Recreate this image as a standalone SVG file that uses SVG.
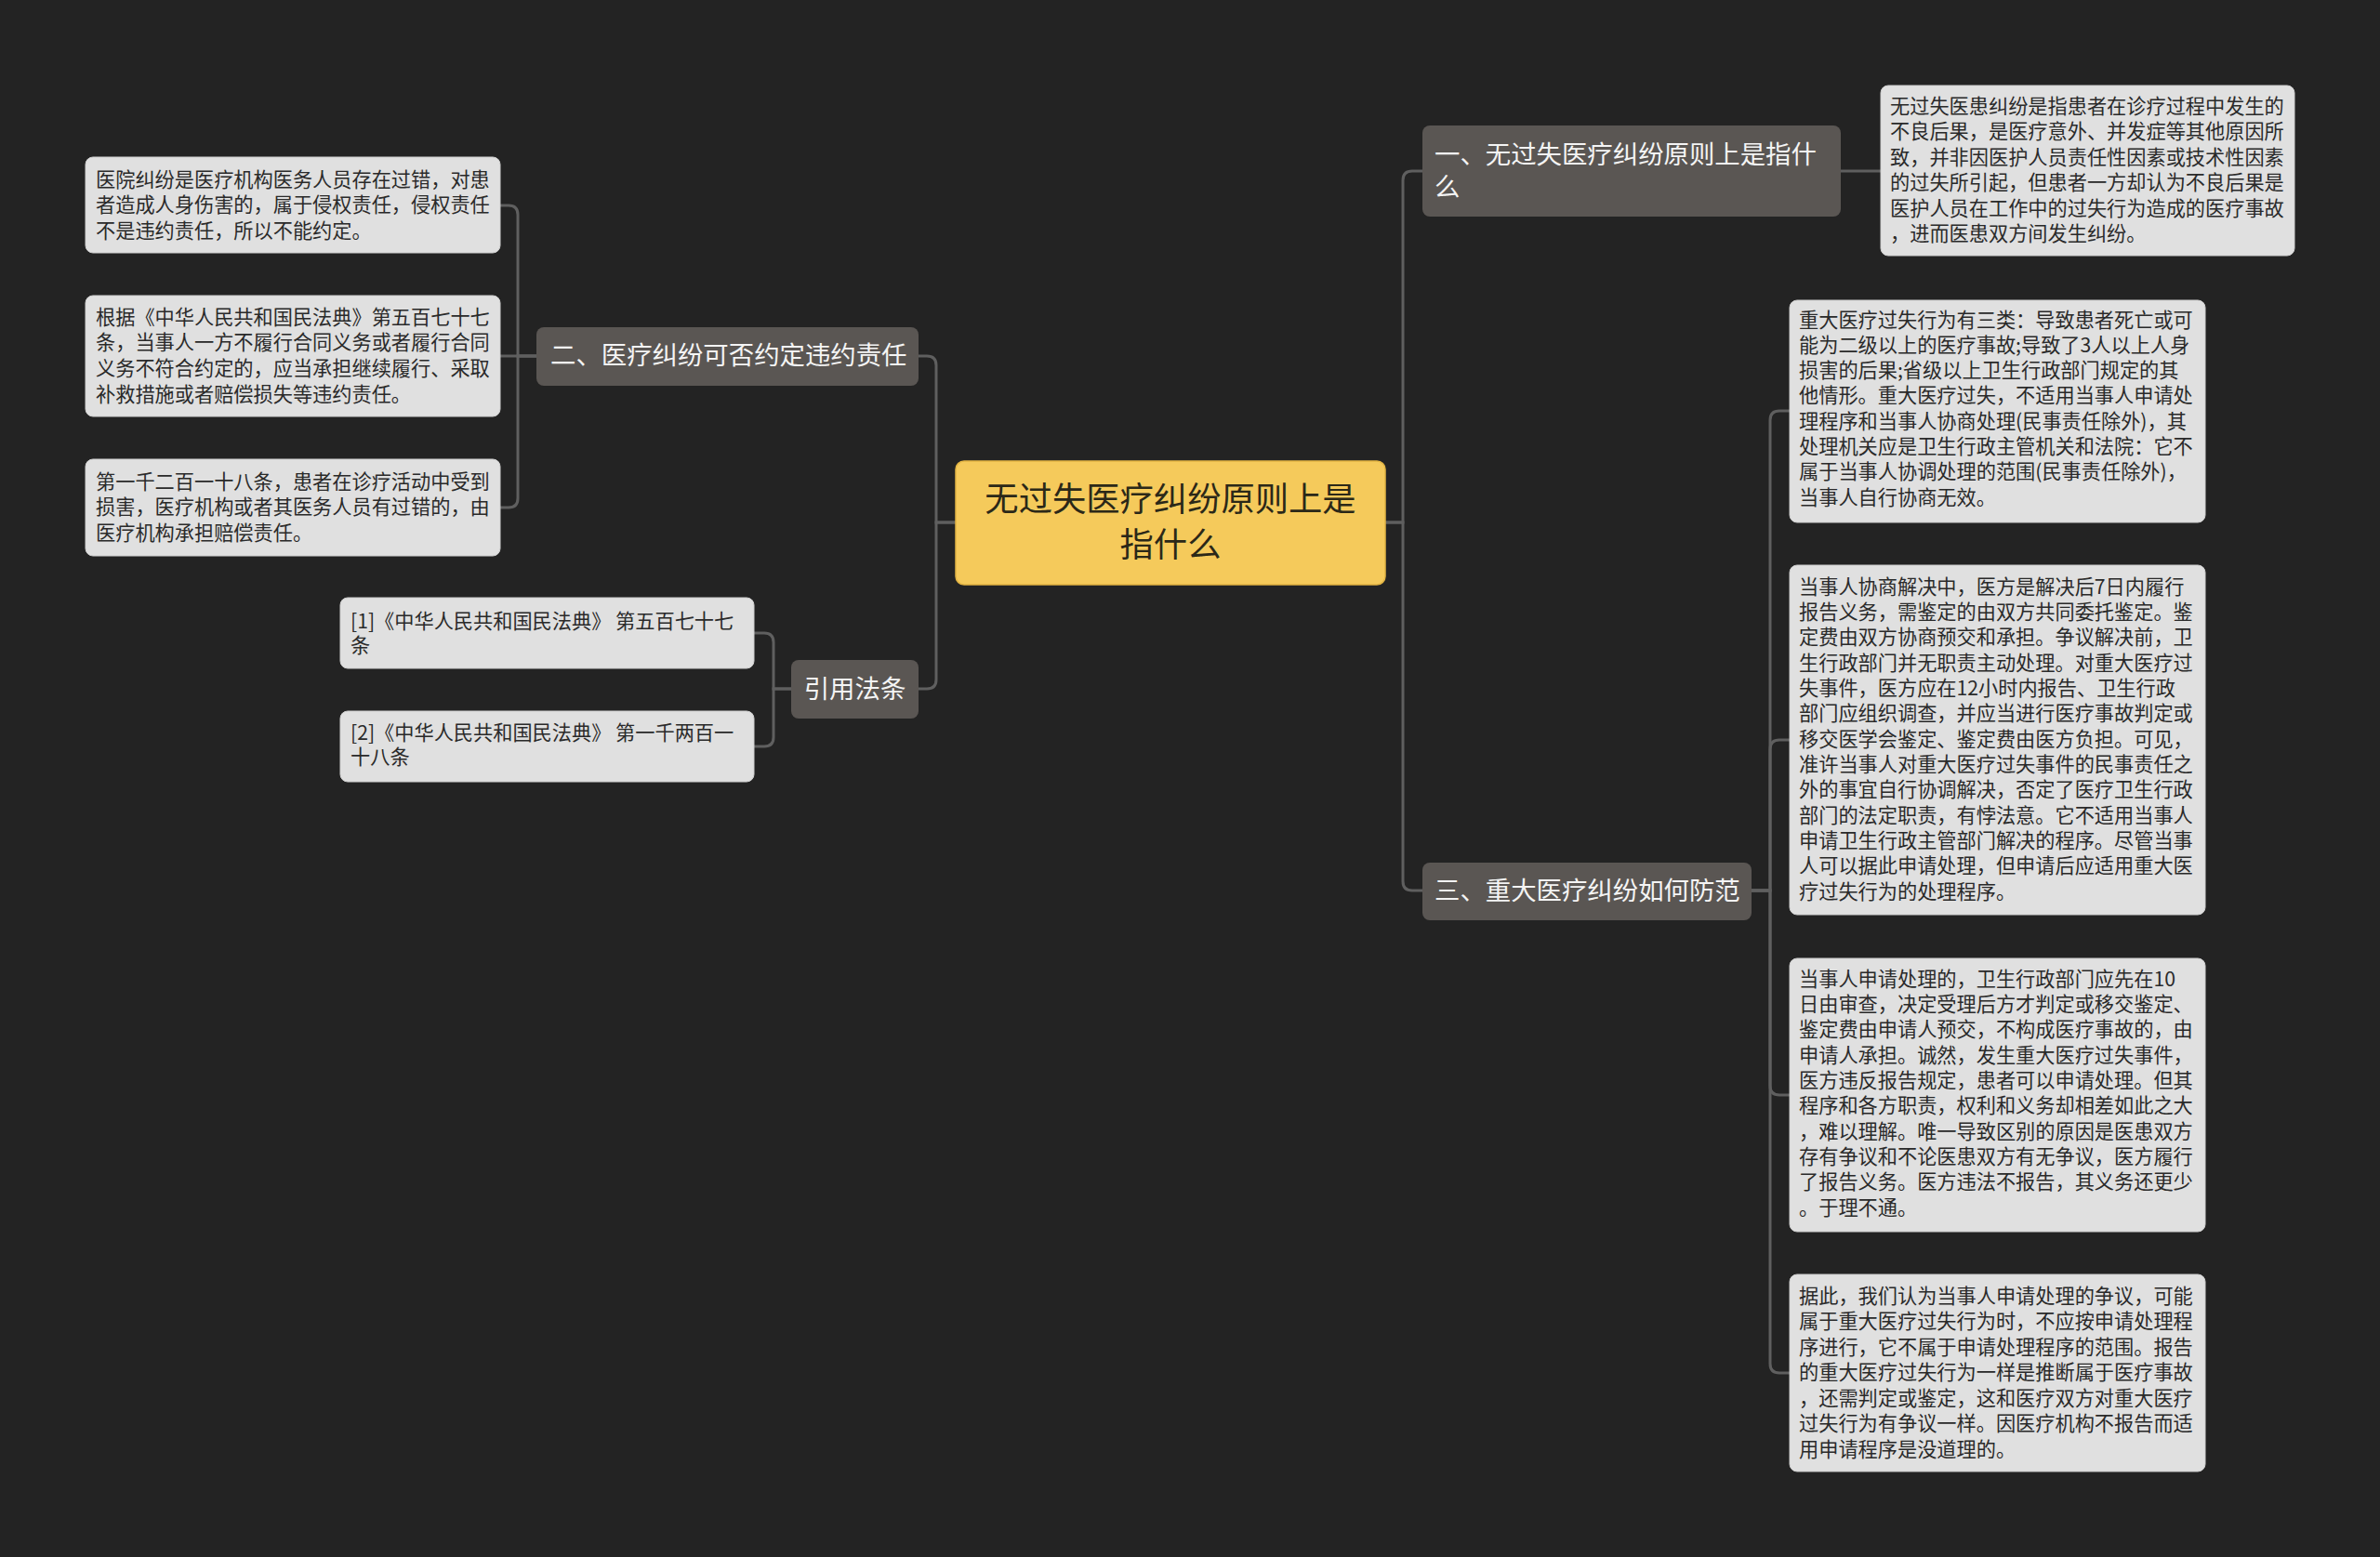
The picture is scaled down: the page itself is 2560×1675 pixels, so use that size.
<svg xmlns="http://www.w3.org/2000/svg" width="2560" height="1675" viewBox="0 0 2560 1675">
<style>
text{font-family:"Noto Sans CJK SC","Noto Sans",sans-serif;}
.root{fill:#f5ca5b;stroke:#e2b443;stroke-width:1.5;}
.rt{font-size:36.3px;fill:#2b2818;text-anchor:middle;}
.l1{fill:#5a5653;}
.t1{font-size:27.4px;fill:#f4f4f4;}
.leaf{fill:#e0e0e0;stroke:#cfcfcf;stroke-width:1;}
.t2{font-size:21.2px;fill:#2a2a2a;}
.c{fill:none;stroke:#5f5f5f;stroke-width:3;}
</style>
<rect x="0" y="0" width="2560" height="1675" fill="#232323"/>

<g id="connectors">
  <path class="c" d="M1028,562 H1007 V393 Q1007,383 997,383 H988"/>
  <path class="c" d="M1028,562 H1007 V731 Q1007,741 997,741 H988"/>
  <path class="c" d="M577,383 H557 V231 Q557,221 547,221 H538"/>
  <path class="c" d="M577,383 H538"/>
  <path class="c" d="M577,383 H557 V536 Q557,546 547,546 H538"/>
  <path class="c" d="M851,741 H832 V691 Q832,681 822,681 H811"/>
  <path class="c" d="M851,741 H832 V793 Q832,803 822,803 H811"/>
  <path class="c" d="M1490,562 H1509 V194 Q1509,184 1519,184 H1530"/>
  <path class="c" d="M1490,562 H1509 V948 Q1509,958 1519,958 H1530"/>
  <path class="c" d="M1980,184 H2023"/>
  <path class="c" d="M1884,958 H1904 V452 Q1904,442 1914,442 H1925"/>
  <path class="c" d="M1884,958 H1904 V806 Q1904,796 1914,796 H1925"/>
  <path class="c" d="M1884,958 H1904 V1168 Q1904,1178 1914,1178 H1925"/>
  <path class="c" d="M1884,958 H1904 V1467 Q1904,1477 1914,1477 H1925"/>
</g>

<g id="root">
  <rect class="root" x="1028" y="496" width="462" height="133" rx="9"/>
  <text class="rt" x="1259" y="550">无过失医疗纠纷原则上是</text>
  <text class="rt" x="1259" y="599">指什么</text>
</g>

<g id="node-2">
  <rect class="l1" x="577" y="352" width="411" height="63" rx="8"/>
  <text class="t1" x="592" y="392">二、医疗纠纷可否约定违约责任</text>
</g>

<g id="leaf-2a">
  <rect class="leaf" x="92" y="169" width="446" height="103" rx="8"/>
  <text class="t2" x="103" y="200.5">医院纠纷是医疗机构医务人员存在过错，对患</text>
  <text class="t2" x="103" y="228">者造成人身伤害的，属于侵权责任，侵权责任</text>
  <text class="t2" x="103" y="255.5">不是违约责任，所以不能约定。</text>
</g>

<g id="leaf-2b">
  <rect class="leaf" x="92" y="318" width="446" height="130" rx="8"/>
  <text class="t2" x="103" y="348.5">根据《中华人民共和国民法典》第五百七十七</text>
  <text class="t2" x="103" y="376.3">条，当事人一方不履行合同义务或者履行合同</text>
  <text class="t2" x="103" y="404.1">义务不符合约定的，应当承担继续履行、采取</text>
  <text class="t2" x="103" y="431.9">补救措施或者赔偿损失等违约责任。</text>
</g>

<g id="leaf-2c">
  <rect class="leaf" x="92" y="494" width="446" height="104" rx="8"/>
  <text class="t2" x="103" y="525.5">第一千二百一十八条，患者在诊疗活动中受到</text>
  <text class="t2" x="103" y="553">损害，医疗机构或者其医务人员有过错的，由</text>
  <text class="t2" x="103" y="580.5">医疗机构承担赔偿责任。</text>
</g>

<g id="node-ref">
  <rect class="l1" x="851" y="710" width="137" height="63" rx="8"/>
  <text class="t1" x="919.5" y="751" text-anchor="middle">引用法条</text>
</g>

<g id="ref-1">
  <rect class="leaf" x="366" y="643" width="445" height="76" rx="8"/>
  <text class="t2" x="377" y="675.5">[1]《中华人民共和国民法典》 第五百七十七</text>
  <text class="t2" x="377" y="702">条</text>
</g>

<g id="ref-2">
  <rect class="leaf" x="366" y="765" width="445" height="76" rx="8"/>
  <text class="t2" x="377" y="795.5">[2]《中华人民共和国民法典》 第一千两百一</text>
  <text class="t2" x="377" y="822">十八条</text>
</g>

<g id="node-1">
  <rect class="l1" x="1530" y="135" width="450" height="98" rx="8"/>
  <text class="t1" x="1543" y="176">一、无过失医疗纠纷原则上是指什</text>
  <text class="t1" x="1543" y="211">么</text>
</g>

<g id="leaf-1">
  <rect class="leaf" x="2023" y="92" width="445" height="183" rx="8"/>
  <text class="t2" x="2033" y="121.5">无过失医患纠纷是指患者在诊疗过程中发生的</text>
  <text class="t2" x="2033" y="149">不良后果，是医疗意外、并发症等其他原因所</text>
  <text class="t2" x="2033" y="176.5">致，并非因医护人员责任性因素或技术性因素</text>
  <text class="t2" x="2033" y="204">的过失所引起，但患者一方却认为不良后果是</text>
  <text class="t2" x="2033" y="231.5">医护人员在工作中的过失行为造成的医疗事故</text>
  <text class="t2" x="2033" y="259">，进而医患双方间发生纠纷。</text>
</g>

<g id="node-3">
  <rect class="l1" x="1530" y="928" width="354" height="62" rx="8"/>
  <text class="t1" x="1543" y="968">三、重大医疗纠纷如何防范</text>
</g>

<g id="leaf-3a">
  <rect class="leaf" x="1925" y="323" width="447" height="239" rx="8"/>
  <text class="t2" x="1935" y="351.5">重大医疗过失行为有三类：导致患者死亡或可</text>
  <text class="t2" x="1935" y="378.8">能为二级以上的医疗事故;导致了3人以上人身</text>
  <text class="t2" x="1935" y="406.1">损害的后果;省级以上卫生行政部门规定的其</text>
  <text class="t2" x="1935" y="433.4">他情形。重大医疗过失，不适用当事人申请处</text>
  <text class="t2" x="1935" y="460.7">理程序和当事人协商处理(民事责任除外)，其</text>
  <text class="t2" x="1935" y="488">处理机关应是卫生行政主管机关和法院：它不</text>
  <text class="t2" x="1935" y="515.3">属于当事人协调处理的范围(民事责任除外)，</text>
  <text class="t2" x="1935" y="542.6">当事人自行协商无效。</text>
</g>

<g id="leaf-3b">
  <rect class="leaf" x="1925" y="608" width="447" height="376" rx="8"/>
  <text class="t2" x="1935" y="638.5">当事人协商解决中，医方是解决后7日内履行</text>
  <text class="t2" x="1935" y="665.8">报告义务，需鉴定的由双方共同委托鉴定。鉴</text>
  <text class="t2" x="1935" y="693.2">定费由双方协商预交和承担。争议解决前，卫</text>
  <text class="t2" x="1935" y="720.5">生行政部门并无职责主动处理。对重大医疗过</text>
  <text class="t2" x="1935" y="747.8">失事件，医方应在12小时内报告、卫生行政</text>
  <text class="t2" x="1935" y="775.2">部门应组织调查，并应当进行医疗事故判定或</text>
  <text class="t2" x="1935" y="802.5">移交医学会鉴定、鉴定费由医方负担。可见，</text>
  <text class="t2" x="1935" y="829.8">准许当事人对重大医疗过失事件的民事责任之</text>
  <text class="t2" x="1935" y="857.2">外的事宜自行协调解决，否定了医疗卫生行政</text>
  <text class="t2" x="1935" y="884.5">部门的法定职责，有悖法意。它不适用当事人</text>
  <text class="t2" x="1935" y="911.8">申请卫生行政主管部门解决的程序。尽管当事</text>
  <text class="t2" x="1935" y="939.2">人可以据此申请处理，但申请后应适用重大医</text>
  <text class="t2" x="1935" y="966.5">疗过失行为的处理程序。</text>
</g>

<g id="leaf-3c">
  <rect class="leaf" x="1925" y="1031" width="447" height="294" rx="8"/>
  <text class="t2" x="1935" y="1060.5">当事人申请处理的，卫生行政部门应先在10</text>
  <text class="t2" x="1935" y="1087.8">日由审查，决定受理后方才判定或移交鉴定、</text>
  <text class="t2" x="1935" y="1115.2">鉴定费由申请人预交，不构成医疗事故的，由</text>
  <text class="t2" x="1935" y="1142.5">申请人承担。诚然，发生重大医疗过失事件，</text>
  <text class="t2" x="1935" y="1169.8">医方违反报告规定，患者可以申请处理。但其</text>
  <text class="t2" x="1935" y="1197.2">程序和各方职责，权利和义务却相差如此之大</text>
  <text class="t2" x="1935" y="1224.5">，难以理解。唯一导致区别的原因是医患双方</text>
  <text class="t2" x="1935" y="1251.8">存有争议和不论医患双方有无争议，医方履行</text>
  <text class="t2" x="1935" y="1279.2">了报告义务。医方违法不报告，其义务还更少</text>
  <text class="t2" x="1935" y="1306.5">。于理不通。</text>
</g>

<g id="leaf-3d">
  <rect class="leaf" x="1925" y="1371" width="447" height="212" rx="8"/>
  <text class="t2" x="1935" y="1401.5">据此，我们认为当事人申请处理的争议，可能</text>
  <text class="t2" x="1935" y="1429">属于重大医疗过失行为时，不应按申请处理程</text>
  <text class="t2" x="1935" y="1456.5">序进行，它不属于申请处理程序的范围。报告</text>
  <text class="t2" x="1935" y="1484">的重大医疗过失行为一样是推断属于医疗事故</text>
  <text class="t2" x="1935" y="1511.5">，还需判定或鉴定，这和医疗双方对重大医疗</text>
  <text class="t2" x="1935" y="1539">过失行为有争议一样。因医疗机构不报告而适</text>
  <text class="t2" x="1935" y="1566.5">用申请程序是没道理的。</text>
</g>
</svg>
